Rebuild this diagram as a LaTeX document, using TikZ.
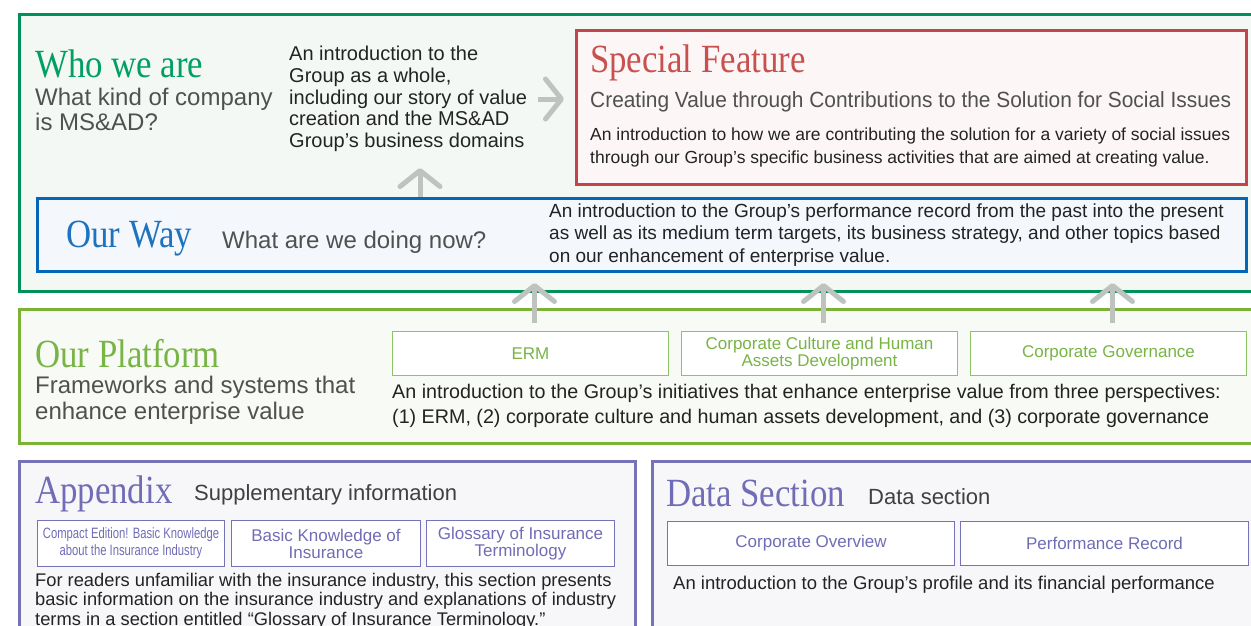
\documentclass[tikz,border=0pt]{standalone}
\usepackage{fontspec}
\setmainfont{Liberation Serif}
\setsansfont{Liberation Sans}
\newfontfamily\headfont[FakeStretch=0.87]{Liberation Serif}
\newfontfamily\bodyfont{Liberation Sans}
\newfontfamily\condfont[FakeStretch=0.95]{Liberation Sans}
\newfontfamily\tightfont[FakeStretch=0.75]{Liberation Sans}
\usetikzlibrary{arrows.meta,positioning}
\definecolor{whogreen}{RGB}{0,145,90}
\definecolor{whotext}{RGB}{0,160,100}
\definecolor{whofill}{RGB}{244,248,245}
\definecolor{spred}{RGB}{192,70,72}
\definecolor{sptext}{RGB}{200,80,78}
\definecolor{spfill}{RGB}{252,247,246}
\definecolor{wayblue}{RGB}{0,104,183}
\definecolor{waytext}{RGB}{30,115,190}
\definecolor{wayfill}{RGB}{244,247,252}
\definecolor{platgreen}{RGB}{122,179,54}
\definecolor{plattext}{RGB}{120,180,70}
\definecolor{platbox}{RGB}{140,195,100}
\definecolor{platfill}{RGB}{248,250,245}
\definecolor{apppurple}{RGB}{118,114,184}
\definecolor{apptext}{RGB}{112,108,182}
\definecolor{appfill}{RGB}{247,247,250}
\definecolor{arrowgray}{RGB}{190,195,192}
\definecolor{subgray}{RGB}{80,80,80}
\definecolor{descgray}{RGB}{35,35,35}
\begin{document}
\begin{tikzpicture}[x=1pt, y=-1pt,
  frame/.style={draw=#1, line width=3pt, anchor=north west, inner sep=0pt},
  tab/.style={draw=#1, line width=1pt, fill=white, anchor=north west, inner sep=0pt,
    align=center, minimum height=44pt, font=\bodyfont\fontsize{17}{17}\selectfont},
  head/.style={font=\headfont\fontsize{40}{40}\selectfont, anchor=base west, inner sep=0pt},
  sub/.style={font=\bodyfont\fontsize{24}{25}\selectfont, text=subgray, anchor=base west,
    inner sep=0pt, align=left},
  desc/.style={font=\bodyfont\fontsize{19.5}{24}\selectfont, text=descgray,
    anchor=north west, inner sep=0pt, align=left},
  uparrow/.style={draw=arrowgray, line width=5pt,
    -{Straight Barb[length=16pt,width=40pt,round]}}]
\useasboundingbox (0,0) rectangle (1251,625);
\clip (0,0) rectangle (1251,625);
\fill[white] (0,0) rectangle (1251,625);

% who we are, special feature, our way
\node[frame=whogreen, fill=whofill, minimum width=1244pt, minimum height=277pt] (whoframe) at (18,13) {};
\node[head, text=whotext] (whotitle) at (35,77) {Who we are};
\node[sub, anchor=north west] (whosub) at (35,88) {What kind of company\\is MS\&AD?};
\node[desc, font=\bodyfont\fontsize{20}{21.75}\selectfont] (whodesc) at (289,46)
  {An introduction to the\\Group as a whole,\\including our story of value\\creation and the MS\&AD\\Group’s business domains};

\node[frame=spred, fill=spfill, minimum width=670pt, minimum height=154pt] (special) at (575,29) {};
\node[head, text=sptext] (sptitle) at (590,72) {Special Feature};
\node[sub, font=\condfont\fontsize{22}{22}\selectfont] (spsub) at (590,107)
  {Creating Value through Contributions to the Solution for Social Issues};
\node[desc, font=\bodyfont\fontsize{17.5}{23.5}\selectfont] (spdesc) at (590,127.5)
  {An introduction to how we are contributing the solution for a variety of social issues\\through our Group’s specific business activities that are aimed at creating value.};

\node[frame=wayblue, fill=wayfill, minimum width=1209pt, minimum height=73pt] (wayframe) at (36,197) {};
\node[head, text=waytext] (waytitle) at (66,247) {Our Way};
\node[sub] (waysub) at (222,248) {What are we doing now?};
\node[desc, font=\bodyfont\fontsize{19}{22.5}\selectfont] (waydesc) at (549,203.5)
  {An introduction to the Group’s performance record from the past into the present\\as well as its medium term targets, its business strategy, and other topics based\\on our enhancement of enterprise value.};

% our platform
\node[frame=platgreen, fill=platfill, minimum width=1244pt, minimum height=134pt] (platframe) at (18,308) {};
\node[head, text=plattext] (plattitle) at (35,367) {Our Platform};
\node[sub, font=\bodyfont\fontsize{24}{26}\selectfont, anchor=north west] (platsub) at (35,375.5)
  {Frameworks and systems that\\enhance enterprise value};
\node[tab=platbox, text=plattext, minimum width=276pt] (erm) at (392,331) {ERM};
\node[tab=platbox, text=plattext, minimum width=276pt] (culture) at (681,331)
  {Corporate Culture and Human\\Assets Development};
\node[tab=platbox, text=plattext, minimum width=276pt] (governance) at (970,331) {Corporate Governance};
\node[desc, font=\bodyfont\fontsize{19.7}{25}\selectfont] (platdesc) at (392,384)
  {An introduction to the Group’s initiatives that enhance enterprise value from three perspectives:\\(1) ERM, (2) corporate culture and human assets development, and (3) corporate governance};

% appendix
\node[frame=apppurple, fill=appfill, minimum width=616pt, minimum height=200pt] (appframe) at (18,460) {};
\node[head, text=apptext] (apptitle) at (35,503) {Appendix};
\node[sub, font=\bodyfont\fontsize{22}{22}\selectfont, text=black!75] (appsub) at (194,500) {Supplementary information};
\node[tab=apppurple, text=apptext, minimum width=187pt, minimum height=46pt,
  font=\tightfont\fontsize{15}{17}\selectfont] (compact) at (37,520)
  {Compact Edition! Basic Knowledge\\about the Insurance Industry};
\node[tab=apppurple, text=apptext, minimum width=189pt, minimum height=46pt] (basic) at (231,520)
  {Basic Knowledge of\\Insurance};
\node[tab=apppurple, text=apptext, minimum width=188pt, minimum height=46pt] (glossary) at (426,520)
  {Glossary of Insurance\\Terminology};
\node[desc, font=\bodyfont\fontsize{18.3}{19.5}\selectfont] (appdesc) at (35,573)
  {For readers unfamiliar with the insurance industry, this section presents\\basic information on the insurance industry and explanations of industry\\terms in a section entitled “Glossary of Insurance Terminology.”};

% data section
\node[frame=apppurple, fill=appfill, minimum width=611pt, minimum height=200pt] (dataframe) at (651,460) {};
\node[head, text=apptext] (datatitle) at (666,506) {Data Section};
\node[sub, font=\bodyfont\fontsize{22}{22}\selectfont, text=black!75] (datasub) at (868,504) {Data section};
\node[tab=apppurple, text=apptext, minimum width=287pt] (overview) at (667,521) {Corporate Overview};
\node[tab=apppurple, text=apptext, minimum width=288pt] (record) at (960,521) {Performance Record};
\node[desc, font=\bodyfont\fontsize{18.5}{22}\selectfont, anchor=base west] (datadesc) at (673,589)
  {An introduction to the Group’s profile and its financial performance};

% arrows
\coordinate (whoarrow) at (420,200);
\draw[uparrow, shorten <=11pt, shorten >=11pt] (whodesc.east) -- (whodesc.east -| special.west);
\draw[uparrow, shorten >=16pt] (wayframe.north -| whoarrow) -- (whoarrow |- whodesc.south);
\foreach \t in {erm,culture,governance}
  \draw[uparrow, shorten <=8pt, shorten >=10pt] ([xshift=4pt]\t.north) -- ([xshift=4pt]\t.north |- wayframe.south);
\end{tikzpicture}
\end{document}
